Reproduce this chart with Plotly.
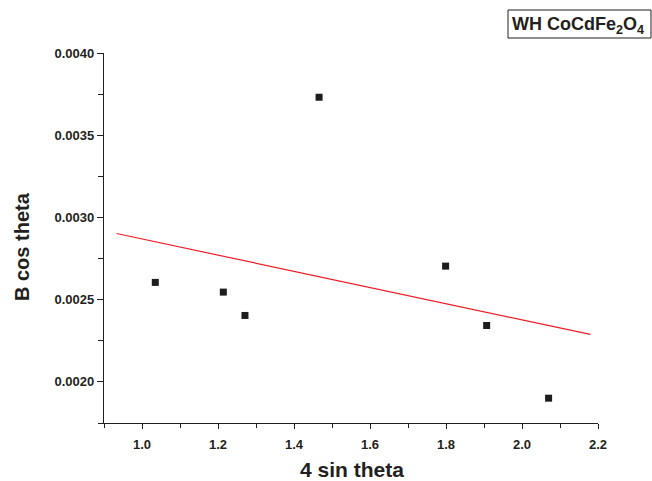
import numpy as np
import plotly.graph_objects as go

# Data
sin_theta_4 = [1.035, 1.214, 1.271, 1.466, 1.799, 1.907, 2.070]
b_cos_theta = [0.002605, 0.002546, 0.002404, 0.003731, 0.002704, 0.002343, 0.001901]
fit_x_range = [0.933, 2.180]

x_ticks = [1.0, 1.2, 1.4, 1.6, 1.8, 2.0, 2.2]
y_ticks = [0.0020, 0.0025, 0.0030, 0.0035, 0.0040]

# linear fit of the data (as drawn in the reference)
slope, intercept = np.polyfit(sin_theta_4, b_cos_theta, 1)
fit_y = [slope * v + intercept for v in fit_x_range]

W, H = 652, 481
L, R, T, B = 104, 54, 53, 58
PW, PH = W - L - R, H - T - B


def px(xp):
    return (xp - L) / PW


def py(yp):
    return (H - B - yp) / PH


ink = "#231f20"
font_family = "Liberation Sans, Arial, sans-serif"

fig = go.Figure()
fig.add_trace(go.Scatter(
    x=sin_theta_4, y=b_cos_theta, mode="markers",
    marker=dict(symbol="square", size=7, color="#1e1c1d"),
    showlegend=False))
fig.add_trace(go.Scatter(
    x=fit_x_range, y=fit_y, mode="lines",
    line=dict(color="#ee1c25", width=1.2),
    showlegend=False))

fig.update_layout(
    width=W, height=H,
    margin=dict(l=L, r=R, t=T, b=B),
    paper_bgcolor="white", plot_bgcolor="white",
    font=dict(family=font_family, color=ink),
    xaxis=dict(
        range=[0.9, 2.2], tickvals=x_ticks, tickformat=".1f",
        showgrid=False, zeroline=False, showline=True, linecolor=ink, linewidth=1.3,
        ticks="outside", ticklen=5, tickwidth=1.2, tickcolor=ink,
        minor=dict(dtick=0.1, tick0=0.9, ticks="outside", ticklen=4, tickwidth=1, tickcolor=ink),
        tickfont=dict(size=13, family=font_family, weight="bold", color=ink),
        ticklabelstandoff=4,
        automargin=False,
    ),
    yaxis=dict(
        range=[0.00175, 0.0040], tickvals=y_ticks, tickformat=".4f",
        showgrid=False, zeroline=False, showline=True, linecolor=ink, linewidth=1.3,
        ticks="outside", ticklen=6, tickwidth=1.2, tickcolor=ink,
        minor=dict(dtick=0.00025, tick0=0.00175, ticks="outside", ticklen=5, tickwidth=1, tickcolor=ink),
        tickfont=dict(size=13, family=font_family, weight="bold", color=ink),
        automargin=False,
    ),
    shapes=[dict(
        type="rect", xref="paper", yref="paper",
        x0=px(508), x1=px(651), y0=py(38), y1=py(10),
        line=dict(color=ink, width=1), fillcolor="white", layer="above",
    )],
    annotations=[
        dict(text="<b>WH CoCdFe<sub>2</sub>O<sub>4</sub></b>",
             xref="paper", yref="paper", x=px(510), y=py(25),
             xanchor="left", yanchor="middle", showarrow=False,
             font=dict(size=18, family=font_family, color=ink)),
        dict(text="<b>4 sin theta</b>",
             xref="paper", yref="paper", x=px(352), y=py(469),
             xanchor="center", yanchor="middle", showarrow=False,
             font=dict(size=21, family=font_family, color=ink)),
        dict(text="<b>B cos theta</b>",
             xref="paper", yref="paper", x=px(22), y=py(247),
             xanchor="center", yanchor="middle", showarrow=False, textangle=-90,
             font=dict(size=20, family=font_family, color=ink)),
    ],
)

fig.write_html("out.html")
